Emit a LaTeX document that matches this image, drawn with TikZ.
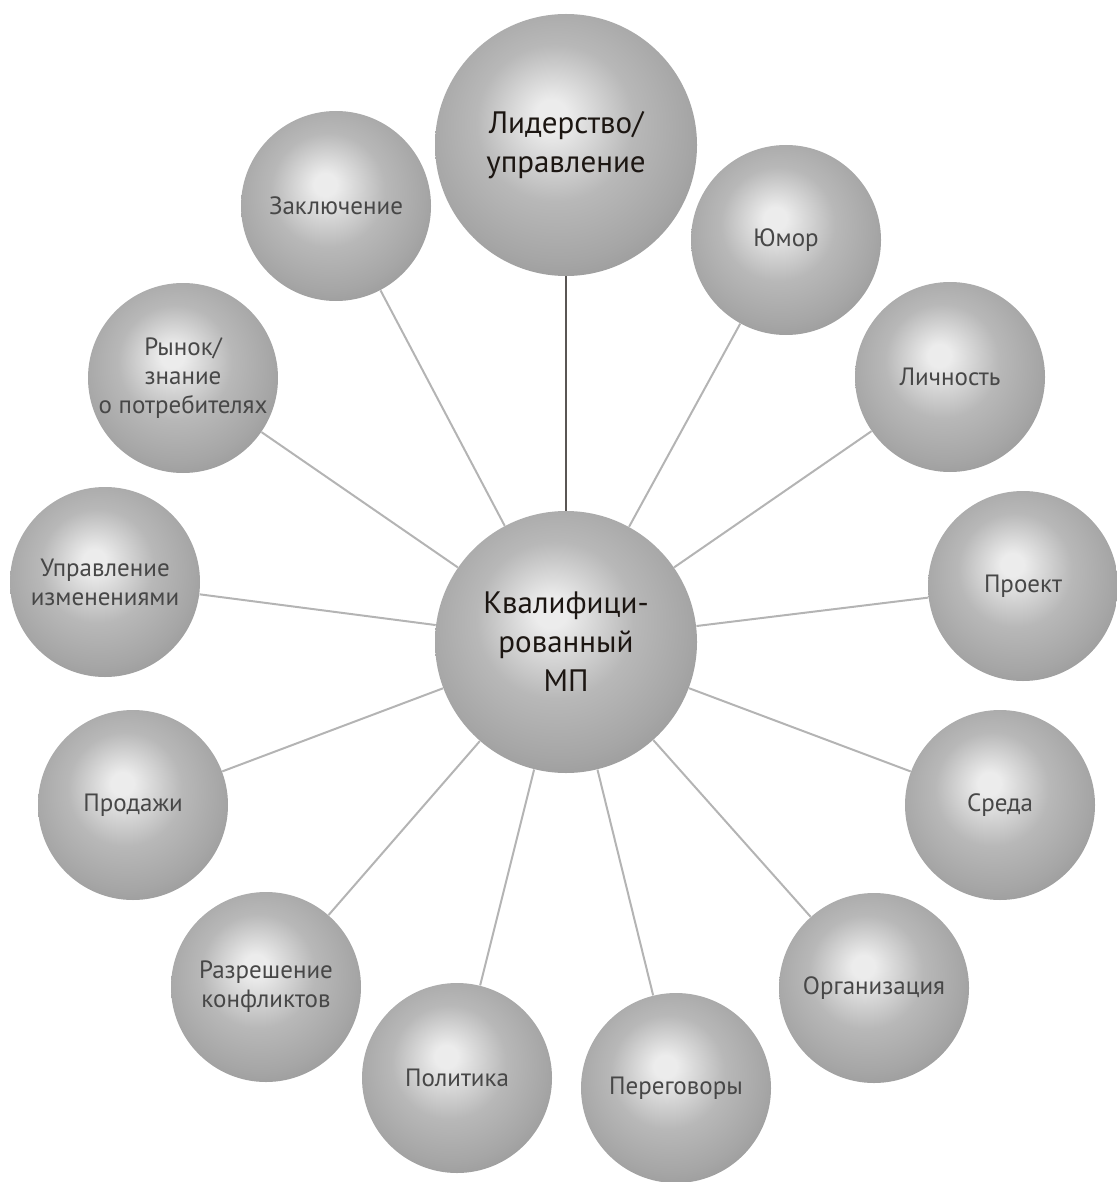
\documentclass[tikz,border=0pt]{standalone}
\usepackage{fontspec}
\setmainfont{PT Sans}
\usetikzlibrary{positioning}
\definecolor{spherehi}{HTML}{ECECEC}
\definecolor{spheremid}{HTML}{B8B8B8}
\definecolor{spherelow}{HTML}{A6A6A6}
\definecolor{sphereedge}{HTML}{969696}
\definecolor{spoke}{HTML}{B4B4B4}
\definecolor{mainspoke}{HTML}{5A5654}
\definecolor{satext}{HTML}{474747}
\definecolor{maintext}{HTML}{1C1612}
\pgfdeclareradialshading{sphere}{\pgfpoint{-3bp}{6bp}}{%
  color(0bp)=(spherehi); color(3bp)=(spherehi);
  color(15bp)=(spheremid); color(25bp)=(spherelow);
  color(32bp)=(sphereedge); color(50bp)=(sphereedge)}
\tikzset {
  ball/.style = {
    circle,
    shading = sphere,
    inner sep = 0,
    align = center
  },
  % small spheres round the hub
  sat/.style = {
    ball,
    minimum size = 95pt,
    text = satext,
    font = \fontsize{12.5}{14.5}\selectfont
  },
  % big spheres
  big/.style = {
    ball,
    minimum size = 131pt,
    text = maintext,
    font = \fontsize{15.5}{19.5}\selectfont
  },
  link/.style = {
    draw = spoke,
    line width = 1pt
  },
  mainlink/.style = {
    draw = mainspoke,
    line width = 1pt
  }
}
\begin{document}
\begin{tikzpicture}[x=0.5pt, y=-0.5pt]
    \useasboundingbox (0,0) rectangle (1117,1182);
    \node[big] (hub) at (566,642) {Квалифици-\\рованный\\МП};
    \node[big] (lead) at (566,145) {Лидерство/\\управление};
    \node[sat] (concl) at (336,206) {Заключение};
    \node[sat] (humor) at (786,240) {Юмор};
    \node[sat] (market) at (183,378) {Рынок/\\знание\\о потребителях};
    \node[sat] (person) at (950,377) {Личность};
    \node[sat] (change) at (105,582) {Управление\\изменениями};
    \node[sat] (project) at (1023,586) {Проект};
    \node[sat] (sales) at (133,805) {Продажи};
    \node[sat] (env) at (1000,805) {Среда};
    \node[sat] (conflict) at (266,987) {Разрешение\\конфликтов};
    \node[sat] (org) at (874,988) {Организация};
    \node[sat] (politics) at (457,1078) {Политика};
    \node[sat] (negot) at (676,1088) {Переговоры};

    \draw[mainlink] (hub) -- (lead);
    \foreach \s in {concl, humor, market, person, change, project,
                    sales, env, conflict, org, politics, negot}
      \draw[link] (hub) -- (\s);
  \end{tikzpicture}
\end{document}
